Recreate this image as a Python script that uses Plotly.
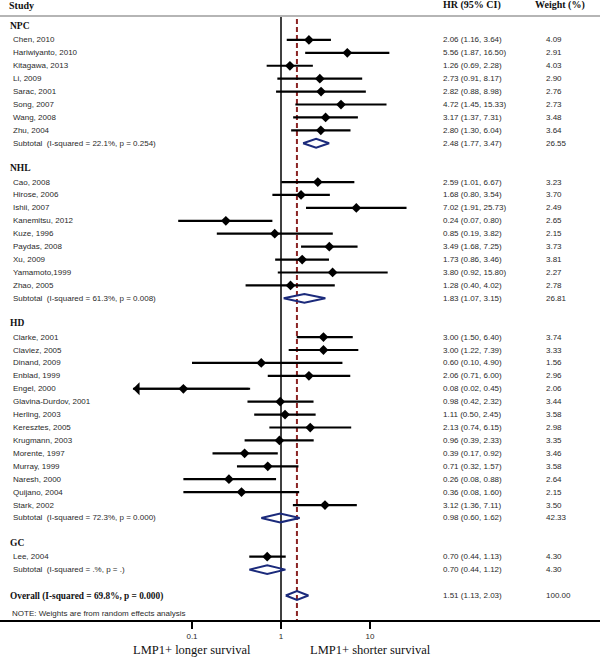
import plotly.graph_objects as go
import math

# ---------------- data ----------------
group_names = ["NPC", "NHL", "HD", "GC"]

npc_studies = ["Chen, 2010", "Hariwiyanto, 2010", "Kitagawa, 2013", "Li, 2009", "Sarac, 2001",
               "Song, 2007", "Wang, 2008", "Zhu, 2004"]
npc_hr = [2.06, 5.56, 1.26, 2.73, 2.82, 4.72, 3.17, 2.80]
npc_lo = [1.16, 1.87, 0.69, 0.91, 0.88, 1.45, 1.37, 1.30]
npc_hi = [3.64, 16.50, 2.28, 8.17, 8.98, 15.33, 7.31, 6.04]
npc_w = [4.09, 2.91, 4.03, 2.90, 2.76, 2.73, 3.48, 3.64]
npc_sub = [2.48, 1.77, 3.47, 26.55]
npc_het = ["22.1%", "0.254"]

nhl_studies = ["Cao, 2008", "Hirose, 2006", "Ishii, 2007", "Kanemitsu, 2012", "Kuze, 1996",
               "Paydas, 2008", "Xu, 2009", "Yamamoto,1999", "Zhao, 2005"]
nhl_hr = [2.59, 1.68, 7.02, 0.24, 0.85, 3.49, 1.73, 3.80, 1.28]
nhl_lo = [1.01, 0.80, 1.91, 0.07, 0.19, 1.68, 0.86, 0.92, 0.40]
nhl_hi = [6.67, 3.54, 25.73, 0.80, 3.82, 7.25, 3.46, 15.80, 4.02]
nhl_w = [3.23, 3.70, 2.49, 2.65, 2.15, 3.73, 3.81, 2.27, 2.78]
nhl_sub = [1.83, 1.07, 3.15, 26.81]
nhl_het = ["61.3%", "0.008"]

hd_studies = ["Clarke, 2001", "Claviez, 2005", "Dinand, 2009", "Enblad, 1999", "Engel, 2000",
              "Glavina-Durdov, 2001", "Herling, 2003", "Keresztes, 2005", "Krugmann, 2003",
              "Morente, 1997", "Murray, 1999", "Naresh, 2000", "Quijano, 2004", "Stark, 2002"]
hd_hr = [3.00, 3.00, 0.60, 2.06, 0.08, 0.98, 1.11, 2.13, 0.96, 0.39, 0.71, 0.26, 0.36, 3.12]
hd_lo = [1.50, 1.22, 0.10, 0.71, 0.02, 0.42, 0.50, 0.74, 0.39, 0.17, 0.32, 0.08, 0.08, 1.36]
hd_hi = [6.40, 7.39, 4.90, 6.00, 0.45, 2.32, 2.45, 6.15, 2.33, 0.92, 1.57, 0.88, 1.60, 7.11]
hd_w = [3.74, 3.33, 1.56, 2.96, 2.06, 3.44, 3.58, 2.98, 3.35, 3.46, 3.58, 2.64, 2.15, 3.50]
hd_sub = [0.98, 0.60, 1.62, 42.33]
hd_het = ["72.3%", "0.000"]

gc_studies = ["Lee, 2004"]
gc_hr = [0.70]
gc_lo = [0.44]
gc_hi = [1.13]
gc_w = [4.30]
gc_sub = [0.70, 0.44, 1.12, 4.30]
gc_het = [".%", "."]

overall = [1.51, 1.13, 2.03, 100.00]
overall_het = ["69.8%", "0.000"]

tick_vals = [0.1, 1, 10]
tick_text = ["0.1", "1", "10"]
left_label = "LMP1+ longer survival"
right_label = "LMP1+ shorter survival"
note_text = "NOTE: Weights are from random effects analysis"

# ---------------- style ----------------
W, H = 600, 657
PLOT_BOTTOM = 620
ROW0_PX = 27.0
ROW_PX = 12.92
X1_PX = 281.0
DEC_PX = 89.0
CLIP_LO = 0.0217
TXT = "#2a2a2a"
NAVY = "#1b2a7b"
RED = "#8b2323"
SANS = "Liberation Sans, Arial, sans-serif"
SERIF = "Liberation Serif, Times New Roman, serif"


def px_to_row(py):
    return (py - ROW0_PX) / ROW_PX


xr = [(0 - X1_PX) / DEC_PX, (W - X1_PX) / DEC_PX]
yr = [px_to_row(PLOT_BOTTOM), px_to_row(0)]

groups = [
    (group_names[0], npc_studies, npc_hr, npc_lo, npc_hi, npc_w, npc_sub, npc_het),
    (group_names[1], nhl_studies, nhl_hr, nhl_lo, nhl_hi, nhl_w, nhl_sub, nhl_het),
    (group_names[2], hd_studies, hd_hr, hd_lo, hd_hi, hd_w, hd_sub, hd_het),
    (group_names[3], gc_studies, gc_hr, gc_lo, gc_hi, gc_w, gc_sub, gc_het),
]

fig = go.Figure()
ann = []

ci_x, ci_y, pt_x, pt_y = [], [], [], []
dia_x, dia_y = [], []
arrows = []
DH = 0.34


def add_diamond(est, lo, hi, r):
    dia_x.extend([lo, est, hi, est, lo, None])
    dia_y.extend([r, r - DH, r, r + DH, r, None])


def txt(xpx, r, s, size=8, font=SANS, color=TXT, bold=False):
    if bold:
        s = "<b>" + s + "</b>"
    ann.append(dict(x=xpx / W, xref="paper", y=r, yref="y", text=s, showarrow=False,
                    xanchor="left", yanchor="middle",
                    font=dict(size=size, family=font, color=color)))


def hr_txt(e, l, h):
    return f"{e:.2f} ({l:.2f}, {h:.2f})"


row = 0
for name, studies, hr, lo, hi, w, sub, het in groups:
    txt(8, row - 0.1, name, size=9.5, font=SERIF, color="#111", bold=True)
    row += 1
    for s, e, l, h, wt in zip(studies, hr, lo, hi, w):
        txt(11, row, s)
        txt(441, row, hr_txt(e, l, h))
        txt(544, row, f"{wt:.2f}")
        l_draw = max(l, CLIP_LO)
        ci_x.extend([l_draw, h, None])
        ci_y.extend([row, row, None])
        pt_x.append(e)
        pt_y.append(row)
        if l < CLIP_LO:
            arrows.append((l_draw, h, row))
        row += 1
    txt(11, row, "Subtotal\u00a0 (I-squared = %s, p = %s)" % (het[0], het[1]))
    txt(441, row, hr_txt(sub[0], sub[1], sub[2]))
    txt(544, row, f"{sub[3]:.2f}")
    add_diamond(sub[0], sub[1], sub[2], row)
    row += 2

overall_row = row
txt(8, overall_row + 0.1, "Overall (I-squared = %s, p = %s)" % (overall_het[0], overall_het[1]),
    size=9.3, font=SERIF, color="#111", bold=True)
txt(441, overall_row, hr_txt(overall[0], overall[1], overall[2]))
txt(544, overall_row, f"{overall[3]:.2f}")
add_diamond(overall[0], overall[1], overall[2], overall_row)

txt(10, px_to_row(613), note_text)

# header
txt(7, px_to_row(5), "Study", size=10, font=SERIF, color="#111", bold=True)
txt(441, px_to_row(5), "HR (95% CI)", size=10, font=SERIF, color="#111", bold=True)
txt(533, px_to_row(5), "Weight (%)", size=10, font=SERIF, color="#111", bold=True)

# reference lines
fig.add_trace(go.Scatter(x=[1, 1], y=[px_to_row(17), yr[0]], mode="lines",
                         line=dict(color="black", width=1.5), hoverinfo="skip"))
fig.add_trace(go.Scatter(x=[overall[0], overall[0]], y=[px_to_row(19), yr[0]], mode="lines",
                         line=dict(color=RED, width=2, dash="5px,3px"), hoverinfo="skip"))

# CIs
fig.add_trace(go.Scatter(x=ci_x, y=ci_y, mode="lines", line=dict(color="black", width=2.2),
                         hoverinfo="skip", cliponaxis=False))
fig.add_trace(go.Scatter(x=pt_x, y=pt_y, mode="markers",
                         marker=dict(symbol="diamond", size=7.5, color="black"), hoverinfo="skip"))
fig.add_trace(go.Scatter(x=dia_x, y=dia_y, mode="lines", line=dict(color=NAVY, width=2),
                         hoverinfo="skip"))

for l_draw, h, r in arrows:
    ann.append(dict(x=math.log10(l_draw), y=r, xref="x", yref="y",
                    ax=math.log10(h), ay=r, axref="x", ayref="y",
                    text="", showarrow=True, arrowhead=1, arrowsize=1, arrowwidth=2.2,
                    arrowcolor="black"))

# bottom labels
for v, lab in [(tick_vals[0], left_label), (tick_vals[2], right_label)]:
    ann.append(dict(x=math.log10(v), xref="x", y=-(650 - PLOT_BOTTOM) / PLOT_BOTTOM, yref="paper",
                    text=lab, showarrow=False, xanchor="center", yanchor="middle",
                    font=dict(size=12.5, family=SERIF, color="#111")))

fig.update_layout(
    width=W, height=H,
    margin=dict(l=0, r=0, t=0, b=H - PLOT_BOTTOM),
    paper_bgcolor="white", plot_bgcolor="white",
    showlegend=False,
    annotations=ann,
    shapes=[dict(type="line", xref="paper", yref="paper", x0=0, x1=1,
                 y0=1 - 16 / PLOT_BOTTOM, y1=1 - 16 / PLOT_BOTTOM,
                 line=dict(color="#b5b5b5", width=2))],
    xaxis=dict(type="log", range=xr, showgrid=False, zeroline=False,
               showline=True, linecolor="black", linewidth=2,
               ticks="outside", ticklen=7, tickwidth=2, tickcolor="black",
               tickvals=tick_vals, ticktext=tick_text,
               tickfont=dict(size=8, family=SANS, color=TXT)),
    yaxis=dict(range=yr, visible=False, showgrid=False, zeroline=False),
)

fig.write_html("out.html", config={"displayModeBar": False},
               post_script="document.body.style.margin='0px';document.body.style.overflow='hidden';")
